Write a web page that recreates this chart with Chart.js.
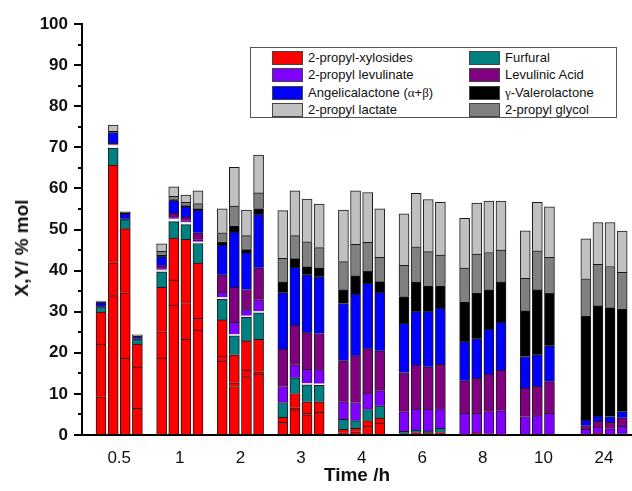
<!DOCTYPE html>
<html>
<head>
<meta charset="utf-8">
<title>Yields vs time</title>
<script src="https://cdn.jsdelivr.net/npm/chart.js@4.4.1/dist/chart.umd.min.js"></script>
<style>
    body { margin: 0; background: #fff; }
    #wrap { position: relative; width: 632px; height: 491px; }
    #legend {
        position: absolute; left: 250px; top: 47px; width: 365px; height: 69px;
        border: 1px solid #555; background: #fff;
        font: 13px "Liberation Sans", Arial, sans-serif; color: #111;
    }
    .item { position: absolute; height: 14px; line-height: 14px; white-space: nowrap; }
    .sw { position: absolute; left: 0; top: 0; width: 29px; height: 12px; border: 1px solid #444; }
    .item .t { position: absolute; left: 36px; top: 0; }
    .greek { font-family: "Liberation Serif", "DejaVu Serif", serif; }
    #ytitle {
        position: absolute; left: 22px; top: 248px;
        transform: translate(-50%, -50%) rotate(-90deg);
        font: bold 19px "Liberation Sans", Arial, sans-serif; color: #111; white-space: nowrap;
    }
</style>
</head>
<body>
<div id="wrap">
    <canvas id="chart" width="632" height="491"></canvas>
    <div id="ytitle">X,Y/ % mol</div>
    <div id="legend"></div>
</div>
<script>
const timeLabels = ['0.5', '1', '2', '3', '4', '6', '8', '10', '24'];

// four runs per time, fourth run at 10 h missing
// xylosides come in three stacked fractions (same colour)
const xylosidesA = [
    9.3, 33.9, 18.7, 6.5,
    18.7, 31.6, 23.3, 25.5,
    18.0, 11.8, 14.2, 14.8,
    3.1, 6.1, 4.9, 5.5,
    0.6, 0.8, 2.2, 2.9,
    0.3, 0.6, 0.5, 0.6,
    0.2, 0.5, 0.3, 0.2,
    null, null, null, null,
    null, 0.4, null, null
];
const xylosidesB = [
    12.8, 8.0, 15.9, 10.0,
    6.4, 6.1, 8.7, 2.9,
    1.2, 0.9, 1.6, 0.6,
    1.2, 0.5, 0.4, 2.6,
    0.8, 0.8, 1.3, 1.2,
    null, null, null, null,
    null, null, null, null,
    null, null, null, null,
    null, null, null, null
];
const xylosidesC = [
    7.8, 23.8, 15.6, 5.6,
    10.8, 10.2, 15.6, 13.4,
    8.8, 6.8, 7.1, 7.9,
    null, 3.5, 2.8, null,
    null, null, null, null,
    null, null, null, null,
    null, null, null, null,
    null, null, null, null,
    null, null, null, null
];
const furfural = [
    1.3, 4.1, 2.2, 1.1,
    3.8, 4.0, 3.6, 4.8,
    5.1, 4.6, 5.7, 6.4,
    3.6, 3.8, 4.1, 4.0,
    2.4, 1.9, 2.7, 3.0,
    0.6, 0.6, 0.5, 1.0,
    null, null, null, null,
    null, null, null, null,
    null, null, null, 0.3
];
// unlabelled white band seen between furfural and the esters
const unassigned = [
    null, 0.8, null, null,
    0.5, 0.7, 0.6, 0.4,
    0.4, 0.4, 0.4, 0.4,
    null, null, 0.4, 0.4,
    null, null, null, null,
    null, null, null, null,
    null, null, null, null,
    null, null, null, null,
    null, null, null, null
];
const propylLevulinate = [
    null, null, null, null,
    0.3, 0.3, 0.3, 0.5,
    1.3, 2.9, 1.5, 2.8,
    3.9, 3.2, 3.4, 3.4,
    4.3, 4.4, 4.0, 3.7,
    4.8, 5.1, 5.3, 4.8,
    5.1, 4.8, 5.4, 5.7,
    4.5, 4.7, 5.3, null,
    1.4, 1.5, 1.5, 1.8
];
const levulinicAcid = [
    0.2, 0.4, 0.2, 0.2,
    0.7, 1.1, 0.9, 1.7,
    4.2, 8.5, 4.9, 7.8,
    9.1, 9.6, 8.9, 8.8,
    10.0, 11.4, 10.8, 9.7,
    9.5, 10.7, 10.3, 10.8,
    7.9, 8.5, 9.1, 9.9,
    6.9, 7.2, 7.7, null,
    0.9, 1.4, 1.6, 2.1
];
const angelicalactone = [
    0.8, 2.6, 1.2, 0.5,
    2.2, 3.0, 2.5, 5.5,
    7.2, 13.5, 8.9, 12.9,
    13.7, 14.1, 14.1, 13.8,
    13.9, 15.0, 15.9, 14.2,
    12.0, 13.0, 13.4, 13.7,
    9.5, 9.6, 10.9, 11.6,
    7.7, 7.6, 8.7, null,
    1.3, 1.3, 1.4, 1.5
];
const valerolactone = [
    0.2, 0.3, 0.3, 0.2,
    0.3, 0.3, 0.3, 0.3,
    0.7, 1.5, 0.8, 1.5,
    2.6, 2.1, 1.9, 2.1,
    3.4, 4.5, 2.9, 2.6,
    6.5, 7.2, 6.3, 5.4,
    9.7, 11.2, 9.7, 9.8,
    11.1, 15.8, 12.8, null,
    25.4, 26.8, 26.5, 25.0
];
const propylGlycol = [
    null, null, null, null,
    1.0, 0.8, 0.8, 1.3,
    2.3, 4.8, 3.4, 3.8,
    5.8, 5.6, 6.1, 5.0,
    6.8, 7.6, 7.1, 5.9,
    7.6, 8.6, 8.3, 7.5,
    8.2, 9.4, 9.0, 7.8,
    7.9, 9.5, 8.7, null,
    9.0, 10.1, 10.0, 8.9
];
const propylLactate = [
    0.2, 1.5, 0.2, 0.3,
    1.8, 2.3, 1.8, 3.1,
    5.8, 9.4, 6.2, 9.2,
    11.6, 10.9, 10.4, 10.6,
    12.5, 13.0, 12.1, 11.8,
    12.5, 13.0, 12.7, 12.8,
    12.1, 12.4, 12.5, 11.9,
    11.6, 11.8, 12.3, null,
    9.7, 10.2, 10.7, 10.0
];

const legendOrder = [
    '2-propyl-xylosides', 'Furfural',
    '2-propyl levulinate', 'Levulinic Acid',
    'Angelicalactone (α+β)', 'γ-Valerolactone',
    '2-propyl lactate', '2-propyl glycol'
];

// bar slots: 4 runs side by side, one empty slot between times
const barX = [];
timeLabels.forEach((t, g) => {
    for (let j = 0; j < 4; j++) barX.push(g * 5 + j);
});

function points(values) {
    return values
        .map((v, i) => ({ x: barX[i], y: v }))
        .filter(p => p.y !== null);
}

const series = [
    { label: '2-propyl-xylosides', values: xylosidesA, color: '#ff0000' },
    { label: '2-propyl-xylosides', values: xylosidesB, color: '#ff0000' },
    { label: '2-propyl-xylosides', values: xylosidesC, color: '#ff0000' },
    { label: 'Furfural', values: furfural, color: '#008080' },
    { label: 'unassigned', values: unassigned, color: '#ffffff', border: '#cfcfcf' },
    { label: '2-propyl levulinate', values: propylLevulinate, color: '#8000ff' },
    { label: 'Levulinic Acid', values: levulinicAcid, color: '#800080' },
    { label: 'Angelicalactone (α+β)', values: angelicalactone, color: '#0000ff' },
    { label: 'γ-Valerolactone', values: valerolactone, color: '#000000' },
    { label: '2-propyl glycol', values: propylGlycol, color: '#808080' },
    { label: '2-propyl lactate', values: propylLactate, color: '#c0c0c0' }
];

const minorTicks = {
    id: 'minorTicks',
    afterDraw(chart) {
        const { ctx, chartArea } = chart;
        const y = chart.scales.y;
        ctx.save();
        ctx.strokeStyle = '#000';
        ctx.lineWidth = 2;
        for (let v = 5; v < 100; v += 10) {
            const py = Math.round(y.getPixelForValue(v));
            ctx.beginPath();
            ctx.moveTo(chartArea.left - 4, py);
            ctx.lineTo(chartArea.left, py);
            ctx.stroke();
        }
        ctx.restore();
    }
};

Chart.defaults.font.family = '"Liberation Sans", Arial, sans-serif';

const chart = new Chart(document.getElementById('chart'), {
    type: 'bar',
    data: {
        datasets: series.map(s => ({
            label: s.label,
            data: points(s.values),
            backgroundColor: s.color,
            borderColor: s.border || '#1a1a1a',
            borderWidth: 1,
            barThickness: 10
        }))
    },
    options: {
        responsive: false,
        animation: false,
        layout: { padding: { top: 24, right: 0, bottom: 0, left: 0 } },
        plugins: {
            legend: { display: false },
            tooltip: { enabled: false }
        },
        scales: {
            x: {
                type: 'linear',
                stacked: true,
                offset: false,
                min: -1.57,
                max: 43.81,
                grid: { display: false, offset: false },
                border: { display: true, color: '#000', width: 2 },
                afterBuildTicks: axis => {
                    axis.ticks = timeLabels.map((t, g) => ({ value: g * 5 + 1.5 }));
                },
                afterFit: axis => { axis.height = 56; },
                ticks: {
                    autoSkip: false,
                    maxRotation: 0,
                    padding: 5,
                    color: '#111',
                    font: { size: 17 },
                    callback: (val, i) => timeLabels[i]
                },
                title: {
                    display: true,
                    text: 'Time /h',
                    color: '#111',
                    font: { size: 19, weight: 'bold' },
                    padding: { top: 0, bottom: 4 }
                }
            },
            y: {
                stacked: true,
                min: 0,
                max: 100,
                grid: { drawOnChartArea: false, tickLength: 8, color: '#000', lineWidth: 2 },
                border: { color: '#000', width: 2 },
                afterFit: axis => { axis.width = 82; },
                ticks: {
                    stepSize: 10,
                    padding: 6,
                    color: '#111',
                    font: { size: 17, weight: 'bold' }
                }
            }
        }
    },
    plugins: [minorTicks]
});

// boxed two-column legend like the original
const legendEl = document.getElementById('legend');
const rowTops = [3, 20, 38, 55];
legendOrder.forEach((name, k) => {
    const ds = chart.data.datasets.find(d => d.label === name);
    const item = document.createElement('div');
    item.className = 'item';
    item.style.left = (k % 2 ? 218 : 21) + 'px';
    item.style.top = rowTops[Math.floor(k / 2)] + 'px';
    const text = name.replace(/([αβγ])/g, '<span class="greek">$1</span>');
    item.innerHTML = `<div class="sw" style="background:${ds.backgroundColor}"></div><span class="t">${text}</span>`;
    legendEl.appendChild(item);
});
</script>
</body>
</html>
